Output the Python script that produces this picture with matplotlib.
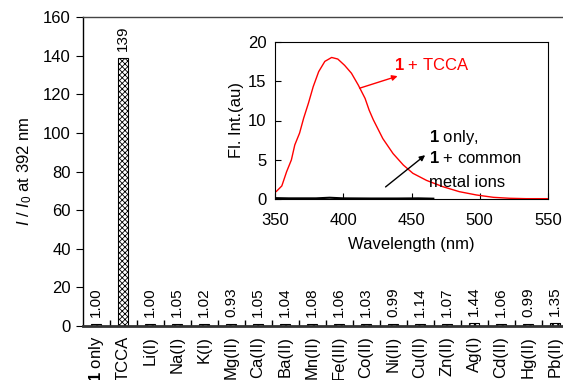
import matplotlib
matplotlib.use("Agg")
from matplotlib import pyplot as plt

plt.rcParams['font.family'] = ['Liberation Sans', 'DejaVu Sans']
plt.rcParams['mathtext.fontset'] = 'custom'
plt.rcParams['mathtext.rm'] = 'Liberation Sans'
plt.rcParams['mathtext.it'] = 'Liberation Sans:italic'
plt.rcParams['mathtext.bf'] = 'Liberation Sans:bold'
plt.rcParams['hatch.linewidth'] = 0.6

# bar data
categories = [r'$\mathbf{1}$ only', 'TCCA', 'Li(I)', 'Na(I)', 'K(I)', 'Mg(II)', 'Ca(II)',
              'Ba(II)', 'Mn(II)', 'Fe(III)', 'Co(II)', 'Ni(II)', 'Cu(II)', 'Zn(II)',
              'Ag(I)', 'Cd(II)', 'Hg(II)', 'Pb(II)']
ratios = [1.00, 138.6, 1.00, 1.05, 1.02, 0.93, 1.05, 1.04, 1.08, 1.06, 1.03,
          0.99, 1.14, 1.07, 1.44, 1.06, 0.99, 1.35]

# inset spectra
wavelength = [350, 351, 355, 358.5, 362, 364.5, 368, 371, 374.5, 378, 382, 386.5, 391.5,
              396, 401, 406, 411, 416, 419, 422, 429, 436.5, 444, 451, 461, 473, 485,
              497.5, 510, 522, 534, 546, 550]
tcca_int = [0.9, 1.0, 1.7, 3.5, 5.0, 6.9, 8.4, 10.3, 12.2, 14.3, 16.2, 17.5, 18.0,
            17.8, 17.0, 16.0, 14.5, 12.8, 11.3, 10.1, 7.7, 5.8, 4.35, 3.3, 2.4, 1.6,
            0.97, 0.55, 0.25, 0.13, 0.08, 0.08, 0.08]
blank_wl = [350, 360, 380, 390, 400, 420, 440, 455, 466]
blank_int = [0.15, 0.12, 0.12, 0.2, 0.12, 0.1, 0.1, 0.12, 0.08]

fig = plt.figure(figsize=(5.63, 3.80), dpi=100)
ax = fig.add_axes([82.5 / 563, 54 / 380, 486 / 563, 309 / 380])

x = list(range(len(categories)))
ax.bar(x, ratios, width=0.4, color='white', edgecolor='black', hatch='xxxxxx', linewidth=0.8)
for i, v in enumerate(ratios):
    txt = f"{v:.0f}" if v > 10 else f"{v:.2f}"
    ax.annotate(txt, (i, v), xytext=(0, 5), textcoords='offset points',
                rotation=90, ha='center', va='bottom', fontsize=11)

ax.set_xlim(-0.5, len(categories) - 0.5)
ax.set_ylim(0, 160)
ax.set_yticks(range(0, 161, 20))
ax.set_xticks(x)
ax.set_xticklabels(categories, rotation=90, fontsize=12)
ax.set_xticks([i + 0.5 for i in x[:-1]], minor=True)
ax.tick_params(axis='x', which='major', length=0, pad=7)
ax.tick_params(axis='x', which='minor', direction='in', length=4, width=1)
ax.tick_params(axis='y', direction='out', length=5, labelsize=12)
ax.set_ylabel(r'$I$ / $I_{\mathit{0}}$ at 392 nm', fontsize=12, labelpad=6)
for s in ax.spines.values():
    s.set_linewidth(1)
ax.spines['bottom'].set_linewidth(2)
ax.spines['bottom'].set_color('#333333')
ax.spines['top'].set_color('#444444')

# inset
ins = fig.add_axes([275 / 563, 180.7 / 380, 273 / 563, 157.6 / 380])
ins.plot(wavelength, tcca_int, color='red', linewidth=1)
ins.plot(blank_wl, blank_int, color='black', linewidth=1.5)
ins.set_xlim(350, 550)
ins.set_ylim(0, 20)
ins.set_xticks(range(350, 551, 50))
ins.set_yticks(range(0, 21, 5))
ins.tick_params(direction='in', length=4, labelsize=12, pad=6)
ins.tick_params(axis='x', pad=10)
ins.set_xlabel('Wavelength (nm)', fontsize=12, labelpad=6)
ins.set_ylabel('Fl. Int.(au)', fontsize=12, labelpad=3)

ins.annotate(r'$\mathbf{1}$ + TCCA', xy=(412, 14.1), xytext=(437, 17.0),
             color='red', fontsize=12, va='center', ha='left',
             arrowprops=dict(arrowstyle='<|-', color='red', lw=1, mutation_scale=8,
                             shrinkA=0, shrinkB=0))
ins.text(463, 7.9, r'$\mathbf{1}$ only,', fontsize=12, va='center')
ins.text(463, 5.2, r'$\mathbf{1}$ + common', fontsize=12, va='center')
ins.text(463, 2.1, 'metal ions', fontsize=12, va='center')
ins.annotate('', xy=(460, 5.6), xytext=(431, 1.57),
             arrowprops=dict(arrowstyle='-|>', color='black', lw=1, mutation_scale=8,
                             shrinkA=0, shrinkB=0))

fig.savefig('out.png', dpi=100)
